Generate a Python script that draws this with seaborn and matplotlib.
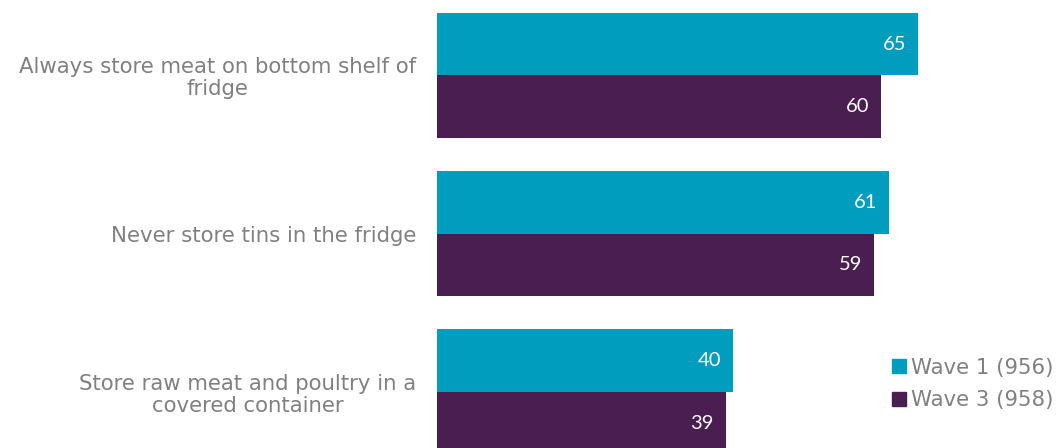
import matplotlib
matplotlib.use("Agg")
import matplotlib.pyplot as plt
import seaborn as sns
import pandas as pd
from matplotlib.lines import Line2D

categories = ["Always store meat on bottom shelf of\nfridge",
              "Never store tins in the fridge",
              "Store raw meat and poultry in a\ncovered container"]
series_names = ["Wave 1 (956)", "Wave 3 (958)"]
wave1 = [65, 61, 40]
wave3 = [60, 59, 39]
colors = ["#009DBE", "#4B1E52"]

df = pd.DataFrame({
    "category": categories * 2,
    "series": [series_names[0]] * 3 + [series_names[1]] * 3,
    "value": wave1 + wave3,
})

sns.set_theme(style="white")
plt.rcParams['font.family'] = ['DejaVu Sans']

W, H = 1061, 448
fig = plt.figure(figsize=(W / 100, H / 100), dpi=100)
left_px = 437.3
ax = fig.add_axes([left_px / W, 0, 1 - left_px / W, 1])

sns.barplot(data=df, y="category", x="value", hue="series", orient="h",
            palette=colors, width=0.79, ax=ax, legend=False,
            edgecolor="none", linewidth=0, saturation=1)

ax.set_xlim(0, (W - left_px) / 7.40)
unit = 158.35
ax.set_ylim(2 + (448 - 392) / unit, -75.3 / unit)

for s in ax.spines.values():
    s.set_visible(False)
ax.set_xticks([])
ax.set_xlabel("")
ax.set_ylabel("")
ax.tick_params(axis="y", length=0, pad=15, labelsize=15.3, labelcolor="#808080")
for lbl in ax.get_yticklabels():
    lbl.set_multialignment("center")
    lbl.set_horizontalalignment("right")
    lbl.set_linespacing(1.12)

for bar in ax.patches:
    w = bar.get_width()
    if w <= 0:
        continue
    y = bar.get_y() + bar.get_height() / 2
    ax.annotate(f"{int(round(w))}", xy=(w, y), xytext=(-8.6, 0),
                textcoords="offset points", ha="right", va="center",
                color="white", fontsize=14.5, family=["Lato", "DejaVu Sans"])

handles = [Line2D([0], [0], marker="s", linestyle="", markersize=9.5,
                  markerfacecolor=c, markeredgecolor=c) for c in colors]
leg = fig.legend(handles, series_names, loc="center left",
                 bbox_to_anchor=(890 / W, 1 - 384 / H),
                 frameon=False, fontsize=15.3, handlelength=0.8,
                 handletextpad=0.2, labelspacing=0.6, borderpad=0,
                 borderaxespad=0)
for t in leg.get_texts():
    t.set_color("#808080")

fig.savefig("out.png", dpi=100)
